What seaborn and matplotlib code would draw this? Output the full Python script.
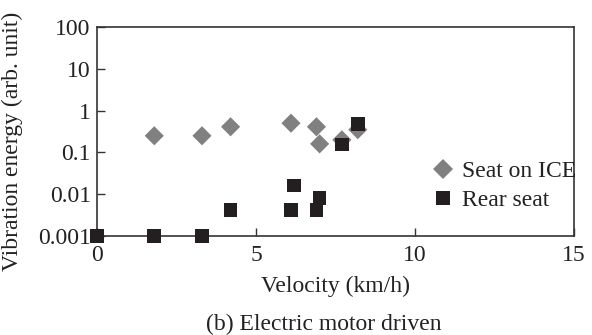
import numpy as np
import pandas as pd
import seaborn as sns
import matplotlib
matplotlib.use("Agg")
import matplotlib.pyplot as plt
from matplotlib.ticker import FixedLocator, FixedFormatter, NullLocator

# Data
ice_velocity = [1.8, 3.3, 4.2, 6.1, 6.9, 7.0, 7.7, 8.2]
ice_energy = [0.25, 0.25, 0.41, 0.50, 0.41, 0.16, 0.20, 0.35]
rear_velocity = [0.0, 1.8, 3.3, 4.2, 6.1, 6.2, 6.9, 7.0, 7.7, 8.2]
rear_energy = [0.001, 0.001, 0.001, 0.0042, 0.0042, 0.016, 0.0042, 0.0081, 0.155, 0.48]
series_names = ["Seat on ICE", "Rear seat"]
y_ticks = [0.001, 0.01, 0.1, 1, 10, 100]
y_tick_labels = ["0.001", "0.01", "0.1", "1", "10", "100"]
x_ticks = [0, 5, 10, 15]

df = pd.concat([
    pd.DataFrame({"v": ice_velocity, "e": ice_energy, "s": series_names[0]}),
    pd.DataFrame({"v": rear_velocity, "e": rear_energy, "s": series_names[1]}),
], ignore_index=True)

sns.set_style("ticks")
plt.rcParams["font.family"] = ["Liberation Serif", "DejaVu Serif"]

FS = 17
TXT = "#222222"

fig = plt.figure(figsize=(5.92, 3.35), dpi=100)
ax = fig.add_axes([0.1639, 0.2955, 0.8057, 0.6239])

sns.scatterplot(data=df, x="v", y="e", hue="s", style="s",
                palette={series_names[0]: "#808080", series_names[1]: "#231f20"},
                markers={series_names[0]: "D", series_names[1]: "s"},
                s=95, linewidth=0, ax=ax, legend=True, zorder=3, clip_on=False)

ax.set_yscale("log")
ax.set_xlim(0, 15)
ax.set_ylim(0.001, 100)
ax.yaxis.set_major_locator(FixedLocator(y_ticks))
ax.yaxis.set_major_formatter(FixedFormatter(y_tick_labels))
ax.yaxis.set_minor_locator(NullLocator())
ax.set_xticks(x_ticks)
ax.set_xticklabels([str(t) for t in x_ticks])
for sp in ax.spines.values():
    sp.set_color("#333333")
    sp.set_linewidth(1.2)
    sp.set_visible(True)
ax.tick_params(direction="in", length=6, width=1.0, color="#333333",
               labelsize=FS, labelcolor=TXT)
ax.tick_params(axis="x", pad=6.5)
ax.tick_params(axis="y", pad=4.5)
ax.set_xlabel("Velocity (km/h)", fontsize=FS, color=TXT, labelpad=7)
ax.set_ylabel("Vibration energy (arb. unit)", fontsize=FS, color=TXT)
ax.yaxis.set_label_coords(-0.155, 0.455)

leg = ax.legend(loc="center left", bbox_to_anchor=(0.70, 0.24), frameon=False,
                fontsize=FS, handlelength=1.0, handletextpad=0.3,
                labelspacing=0.3, borderpad=0, borderaxespad=0, markerscale=1.0)
for t in leg.get_texts():
    t.set_color(TXT)

fig.text(0.547, 0.032, "(b) Electric motor driven", ha="center", va="center",
         fontsize=FS, color=TXT)

fig.savefig("out.png", dpi=100)
